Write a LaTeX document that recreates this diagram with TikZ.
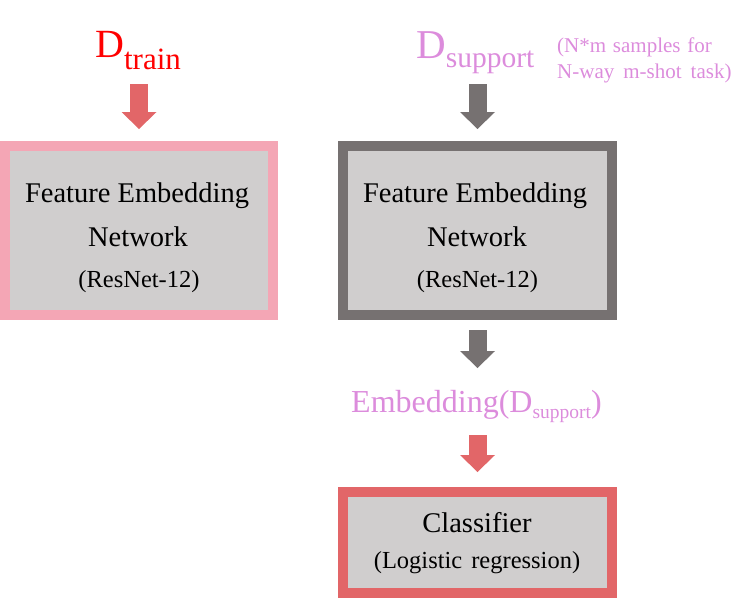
\documentclass[tikz,border=0pt]{standalone}
\usepackage{fontspec}
\setmainfont{Liberation Serif}
\usetikzlibrary{arrows.meta}
\definecolor{boxfill}{RGB}{208,206,206}
\definecolor{pinkb}{RGB}{244,166,181}
\definecolor{grayb}{RGB}{118,113,113}
\definecolor{redb}{RGB}{226,102,104}
\definecolor{suppviolet}{RGB}{220,140,220}
\definecolor{brightred}{RGB}{255,0,0}
\newcommand{\fsz}[1]{\fontsize{#1}{#1}\selectfont}
\begin{document}
\begin{tikzpicture}[x=1pt,y=-1pt,
  box/.style={draw, line width=10pt, fill=boxfill, inner sep=0pt, minimum width=269pt},
  txt/.style={inner sep=0pt, anchor=base},
  blockarrow/.style={line width=18pt, -{Triangle[width=35pt,length=17pt,line width=0pt]}}
]
\useasboundingbox (0,0) rectangle (746,598);

% boxes
\node[box, draw=pinkb, minimum width=268pt, minimum height=169pt] (box1) at (139,230.5) {};
\node[box, draw=grayb, minimum height=169pt] (box2) at (477.5,230.5) {};
\node[box, draw=redb, minimum height=101pt] (box3) at (477.5,542.5) {};

% top labels
\node[txt, anchor=base west, text=brightred] (dtrain) at (95,57)
  {\fsz{40}D\raisebox{-12.5pt}{\fsz{31}train}};
\node[txt, anchor=base west, text=suppviolet] (dsupp) at (416,58)
  {\fsz{41}D\raisebox{-9pt}{\fsz{29.5}support}};
\node[txt, anchor=base west, text=suppviolet] (note1) at (557,52)
  {\fsz{21}\spaceskip=6.8pt (N*m samples for};
\node[txt, anchor=base west, text=suppviolet] (note2) at (557,78)
  {\fsz{21}\spaceskip=9pt N-way m-shot task)};

% box texts
\node[txt] (b1a) at (137,202) {\fsz{28.5}Feature Embedding};
\node[txt] (b1b) at (138,246) {\fsz{28.5}Network};
\node[txt] (b1c) at (139,287) {\fsz{24.5}(ResNet-12)};
\node[txt] (b2a) at (475,202) {\fsz{28.5}Feature Embedding};
\node[txt] (b2b) at (477,246) {\fsz{28.5}Network};
\node[txt] (b2c) at (477.5,287) {\fsz{24.5}(ResNet-12)};
\node[txt] (b3a) at (477,532) {\fsz{28.5}Classifier};
\node[txt] (b3b) at (477,568) {\fsz{24.5}\spaceskip=9pt (Logistic regression)};

% embedding label
\node[txt, anchor=base west, text=suppviolet] (emb) at (351,412)
  {\fsz{32}Embedding(D\raisebox{-6pt}{\fsz{19.5}support})};

% arrows
\coordinate (s1) at (139,84);
\coordinate (s2) at (477.5,84);
\coordinate (t3) at (477.5,368);
\coordinate (s4) at (477.5,435);
\draw[blockarrow, redb, shorten >=12pt] (s1) -- (box1.north);
\draw[blockarrow, grayb, shorten >=12pt] (s2) -- (box2.north);
\draw[blockarrow, grayb, shorten <=10pt] (box2.south) -- (t3);
\draw[blockarrow, redb, shorten >=15pt] (s4) -- (box3.north);
\end{tikzpicture}
\end{document}
